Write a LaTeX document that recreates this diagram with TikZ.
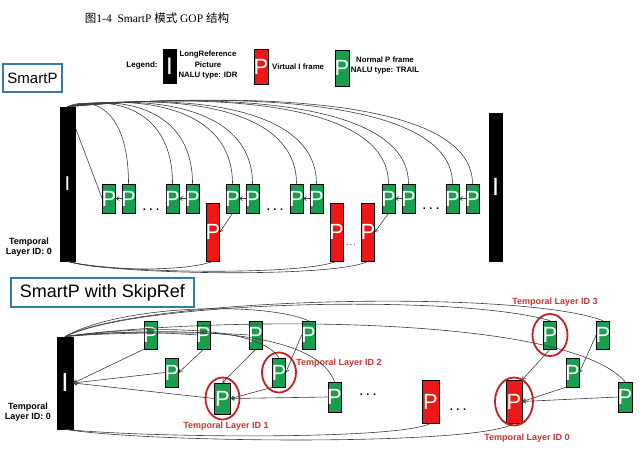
\documentclass[tikz,border=0pt]{standalone}
\usepackage{fontspec}
\setmainfont{Liberation Sans}
\newfontfamily\cjkfont{Noto Sans CJK SC}
\newfontfamily\seriffont{Liberation Serif}
\usetikzlibrary{arrows.meta,calc}
\definecolor{pgreen}{RGB}{26,158,78}
\definecolor{pred}{RGB}{238,22,22}
\definecolor{ringred}{RGB}{200,32,32}
\definecolor{lblred}{RGB}{196,52,52}
\definecolor{frameblue}{RGB}{52,122,172}
\definecolor{conn}{RGB}{60,60,60}
\newcommand\pch{\makebox[0pt]{P}}
\newcommand\ich{\makebox[0pt]{I}}
\begin{document}
\begin{tikzpicture}[x=1pt,y=-1pt,
  frm/.style={draw=black, line width=0.7pt, inner sep=0pt, text=white},
  gP/.style={frm, fill=pgreen, font=\fontsize{22}{22}\selectfont},
  rP/.style={frm, fill=pred, font=\fontsize{22}{22}\selectfont},
  bI/.style={frm, fill=black},
  gtop/.style={gP, minimum width=13pt, minimum height=29pt},
  rtop/.style={rP, minimum width=13pt, minimum height=58pt},
  ref/.style={draw=conn, line width=0.6pt},
  arr/.style={ref, -{To[length=3.5pt,width=4.5pt]}},
  lbl/.style={font=\bfseries\fontsize{9}{10}\selectfont, align=center, inner sep=0pt},
  leg/.style={font=\bfseries\fontsize{7.8}{10.5}\selectfont, align=center, inner sep=0pt},
  rlbl/.style={lbl, text=lblred},
  ring/.style={draw=ringred, line width=1.8pt},
  dots/.style={font=\bfseries\fontsize{11}{11}\selectfont, inner sep=0pt},
  titlebox/.style={draw=frameblue, line width=1.5pt, inner sep=0pt}
]
\useasboundingbox (0,0) rectangle (640,457);

% title
\node[inner sep=0pt, font=\seriffont\fontsize{11.5}{12}\selectfont] (title) at (157,18)
  {{\cjkfont 图}1-4\ \ SmartP {\cjkfont 模式} GOP {\cjkfont 结构}};

% legend
\node[lbl, font=\bfseries\fontsize{8}{10}\selectfont] (legtxt) at (142,65) {Legend:};
\node[bI, minimum width=13pt, minimum height=34pt, font=\fontsize{24}{24}\selectfont] (legI) at (169.5,66) {\ich};
\node[leg] (legIt) at (208,65) {LongReference\\Picture\\NALU type: IDR};
\node[rP, minimum width=14pt, minimum height=35pt] (legR) at (261,66.5) {\pch};
\node[leg, anchor=west] (legRt) at (272,67) {Virtual I frame};
\node[gP, minimum width=14pt, minimum height=36pt] (legG) at (342,68) {\pch};
\node[leg] (legGt) at (385,65.5) {Normal P frame\\NALU type: TRAIL};

% ---------------- SmartP ----------------
\node[titlebox, minimum width=59pt, minimum height=28pt, font=\fontsize{15}{15}\selectfont] (sp) at (32.5,78) {SmartP};

\node[bI, minimum width=15pt, minimum height=154pt, font=\fontsize{20}{20}\selectfont] (I1) at (67.5,184) {\ich};
\node[bI, minimum width=13pt, minimum height=148pt, font=\fontsize{25}{25}\selectfont] (I2) at (495.5,187) {\ich};

\foreach \n/\x in {1/109,2/128.5,3/172.5,4/192.5,5/232.5,6/252.5,7/296.5,8/316.5,9/388.5,10/408.5,11/452.5,12/472.5}
  \node[gtop] (t\n) at (\x,198.5) {\pch};

\node[rtop] (r1) at (213,232) {\pch};
\node[rtop] (r2) at (336.5,232) {\pch};
\node[rtop] (r3) at (368,232) {\pch};

\node[dots] (d1) at (151,210) {.\,\,.\,\,.};
\node[dots] (d2) at (275,210) {.\,\,.\,\,.};
\node[dots] (d3) at (431,209) {.\,\,.\,\,.};
\node[dots, font=\fontsize{8}{8}\selectfont] (d4) at (351,245) {.\,.\,.};

\node[lbl] (tl0a) at (29,247) {Temporal\\Layer ID: 0};

% references to I (top)
\foreach \n/\x in {2/128.5,3/172.5,4/192.5,5/232.5,6/252.5,7/296.5,8/316.5,9/388.5,10/408.5,11/452.5,12/472.5}
  \draw[ref] (t\n.north) .. controls (\x,{112-0.04*(\x-68)}) and ({68+0.42*(\x-68)},{96-0.01*(\x-68)}) .. (I1.north);
\draw[ref] ($(I1.north east)+(0,21)$) -- (t1.west);

% pair arrows
\foreach \a/\b in {2/1,4/3,6/5,8/7,10/9,12/11}
  \draw[arr] (t\a.west) -- (t\b.east);

% green -> virtual I
\draw[arr] (t5.south) -- (r1.east);
\draw[arr] (t9.south) -- (r3.east);

% virtual I -> I bottom
\draw[ref] (r1.south) .. controls (185,272) and (100,271) .. (I1.south);
\draw[ref] (r2.south) .. controls (300,276) and (110,273) .. (I1.south);
\draw[ref] (r3.south) .. controls (335,278) and (115,275) .. (I1.south);

% ---------------- SmartP with SkipRef ----------------
\node[titlebox, minimum width=183pt, minimum height=29pt, font=\fontsize{18}{18}\selectfont] (sps) at (102.5,292.5) {SmartP with SkipRef};

\node[bI, minimum width=16pt, minimum height=92pt, font=\fontsize{26}{26}\selectfont] (B) at (65,383) {\ich};
\node[lbl] (tl0b) at (28,412) {Temporal\\Layer ID: 0};

% layer 3
\foreach \n/\x in {1/150.5,2/203.5,3/255.5,4/308.5,5/550,6/603}
  \node[gP, minimum width=13pt, minimum height=28pt] (a\n) at (\x,335) {\pch};
% layer 2
\foreach \n/\x in {1/172,2/279,3/572.5}
  \node[gP, minimum width=13pt, minimum height=29pt] (b\n) at (\x,372.5) {\pch};
% layer 1
\node[gP, minimum width=16pt, minimum height=31pt] (c1) at (222.5,398.5) {\pch};
\node[gP, minimum width=13pt, minimum height=30pt] (c2) at (334.5,397) {\pch};
\node[gP, minimum width=14pt, minimum height=30pt] (c3) at (625,397) {\pch};
% virtual I
\node[rP, minimum width=17pt, minimum height=43pt] (v1) at (430.5,401.5) {\pch};
\node[rP, minimum width=16pt, minimum height=43pt] (v2) at (514,401.5) {\pch};

\node[dots] (d5) at (368,395) {.\,\,.\,\,.};
\node[dots] (d6) at (458,410) {.\,\,.\,\,.};

% rings
\draw[ring] (a5.center) ellipse [x radius=17.5pt, y radius=21pt];
\draw[ring] (b2.center) ellipse [x radius=17pt, y radius=20pt];
\draw[ring] (c1.center) ellipse [x radius=17pt, y radius=21pt];
\draw[ring] (v2.center) ellipse [x radius=19pt, y radius=24pt];

\node[rlbl] (l3) at (555,302) {Temporal Layer ID 3};
\node[rlbl] (l2) at (339,363) {Temporal Layer ID 2};
\node[rlbl] (l1) at (226,426) {Temporal Layer ID 1};
\node[rlbl] (l0) at (527,438) {Temporal Layer ID 0};

% long references from B top
\draw[ref] (B.north) .. controls (120,305) and (262,301) .. (a4.north);
\draw[ref] (B.north) .. controls (140,300) and (460,294) .. (a5.north);
\draw[ref] (B.north) .. controls (140,297) and (520,289) .. (a6.north);
\draw[ref] (B.north) .. controls (130,327) and (255,322) .. (b2.north);
\draw[ref] (B.north) .. controls (140,329) and (312,322) .. (c2.north);
\draw[ref] (B.north) .. controls (200,317) and (565,312) .. (c3.north);
\draw[ref] (B.north) .. controls (100,331) and (160,332) .. (a2.west);
\draw[ref] (B.north) .. controls (110,332) and (210,332) .. (a3.west);

% arrows into B
\draw[arr] (a1.south west) -- (B.east);
\draw[arr] (b1.west) -- (B.east);
\draw[arr] (c1.west) -- (B.east);

% arrows between frames
\draw[arr] (a2.south) -- (b1.east);
\draw[arr] (a3.south) -- (c1.north);
\draw[arr] (a4.west) -- (b2.east);
\draw[arr] (b2.south west) -- (c1.east);
\draw[arr] (c2.west) -- (c1.east);
\draw[arr] (a5.south) -- (v2.north east);
\draw[arr] (a6.west) -- (b3.east);
\draw[arr] (b3.south west) -- (v2.east);
\draw[arr] (c3.west) -- (v2.east);

% virtual I -> B bottom
\draw[ref] (v1.south) .. controls (400,440) and (150,438) .. (B.south);
\draw[ref] (v2.south) .. controls (480,446) and (150,443) .. (B.south);
\end{tikzpicture}
\end{document}
